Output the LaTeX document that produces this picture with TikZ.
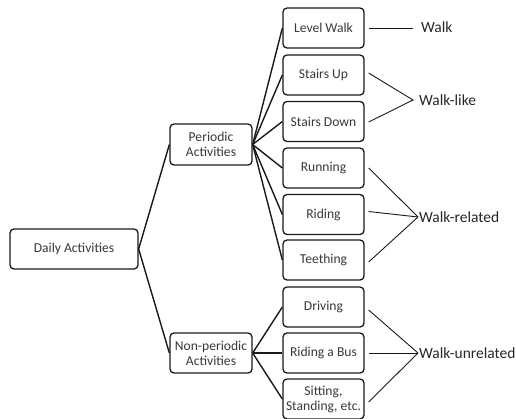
\documentclass[tikz,border=0pt]{standalone}
\usepackage{fontspec}
\setmainfont{Carlito}
\begin{document}
\begin{tikzpicture}[x=1pt,y=-1pt,
  box/.style={draw=black!90, line width=1.3pt, rounded corners=4pt, minimum height=40pt, inner sep=0pt, align=center, text=black!78, font=\fontsize{13.6}{15}\selectfont},
  leaf/.style={box, minimum width=81pt},
  tree/.style={line width=1.4pt, black!90},
  grp/.style={line width=0.9pt, black!90},
  lbl/.style={anchor=west, inner sep=0pt, text=black!85, font=\fontsize{15.5}{18}\selectfont}]
\useasboundingbox (0,0) rectangle (516,418);
\node[box, minimum width=128pt] (daily) at (74,249) {Daily Activities};
\node[box, minimum width=82pt, minimum height=41pt] (per) at (211,144.5) {Periodic\\Activities};
\node[box, minimum width=82pt] (non) at (211,353) {Non-periodic\\Activities};
\node[leaf] (lw) at (323.5,28) {Level Walk};
\node[leaf] (su) at (323.5,75) {Stairs Up};
\node[leaf] (sd) at (323.5,121.5) {Stairs Down};
\node[leaf] (run) at (323.5,168) {Running};
\node[leaf] (rid) at (323.5,214.5) {Riding};
\node[leaf] (tee) at (323.5,260) {Teething};
\node[leaf] (drv) at (323.5,307) {Driving};
\node[leaf] (bus) at (323.5,353) {Riding a Bus};
\node[leaf] (sit) at (323.5,399) {Sitting,\\Standing, etc.};
\draw[tree] (daily.east) -- (per.west);
\draw[tree] (daily.east) -- (non.west);
\foreach \n in {lw,su,sd,run,rid,tee} \draw[tree] (per.east) -- (\n.west);
\foreach \n in {drv,bus,sit} \draw[tree] (non.east) -- (\n.west);
\coordinate (jw) at (413,28);
\coordinate (jl) at (413,100);
\coordinate (jr) at (418,217);
\coordinate (ju) at (418,353);
\node[lbl] (walk) at (421,27) {Walk};
\node[lbl] (like) at (419,100) {Walk-like};
\node[lbl] (rel) at (419,217) {Walk-related};
\node[lbl] (unrel) at (419,353) {Walk-unrelated};
\draw[grp] ([xshift=4pt]lw.east) -- (jw);
\draw[grp] ([xshift=4pt,yshift=2pt]su.east) -- (jl) -- ([xshift=4pt,yshift=-0.5pt]sd.east);
\draw[grp] ([xshift=4pt]run.east) -- (jr);
\draw[grp] ([xshift=4pt,yshift=3pt]rid.east) -- (jr);
\draw[grp] ([xshift=4pt,yshift=-2pt]tee.east) -- (jr);
\draw[grp] ([xshift=4pt,yshift=-3pt]drv.east) -- (ju);
\draw[grp] ([xshift=4pt]bus.east) -- (ju);
\draw[grp] ([xshift=4pt,yshift=-3pt]sit.east) -- (ju);
\end{tikzpicture}
\end{document}
